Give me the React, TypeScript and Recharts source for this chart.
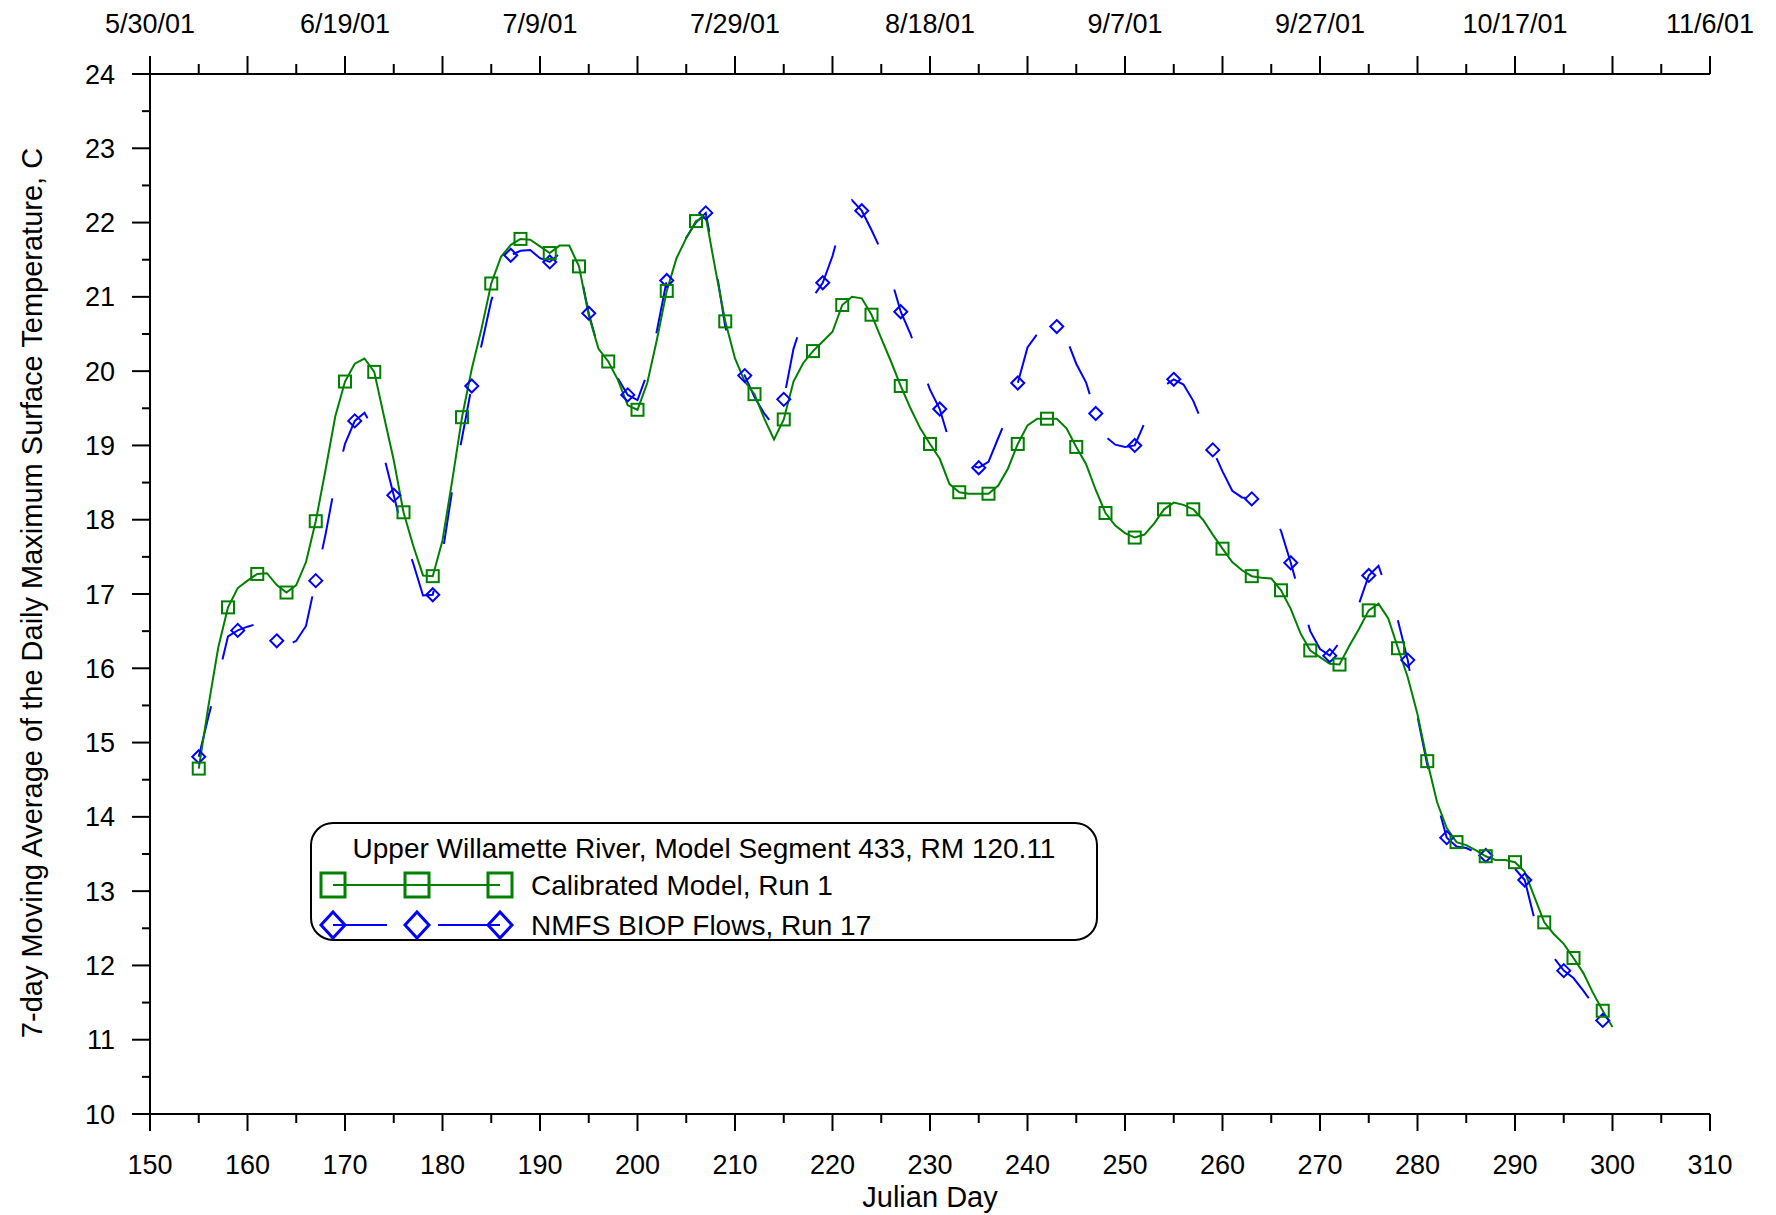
import React from "react";
import { LineChart, Line, XAxis, YAxis } from "recharts";

// Julian day of each daily value
const julianDays = [
  155, 156, 157, 158, 159, 160, 161, 162, 163, 164, 165, 166, 167, 168, 169, 170, 171, 172, 173, 174,
  175, 176, 177, 178, 179, 180, 181, 182, 183, 184, 185, 186, 187, 188, 189, 190, 191, 192, 193, 194,
  195, 196, 197, 198, 199, 200, 201, 202, 203, 204, 205, 206, 207, 208, 209, 210, 211, 212, 213, 214,
  215, 216, 217, 218, 219, 220, 221, 222, 223, 224, 225, 226, 227, 228, 229, 230, 231, 232, 233, 234,
  235, 236, 237, 238, 239, 240, 241, 242, 243, 244, 245, 246, 247, 248, 249, 250, 251, 252, 253, 254,
  255, 256, 257, 258, 259, 260, 261, 262, 263, 264, 265, 266, 267, 268, 269, 270, 271, 272, 273, 274,
  275, 276, 277, 278, 279, 280, 281, 282, 283, 284, 285, 286, 287, 288, 289, 290, 291, 292, 293, 294,
  295, 296, 297, 298, 299, 300,
];

// Calibrated Model, Run 1 (deg C)
const calibratedRun1 = [
  14.65, 15.5, 16.28, 16.82, 17.08, 17.18, 17.27, 17.28, 17.12, 17.02, 17.12, 17.43, 17.98, 18.67, 19.39, 19.86, 20.1, 20.17, 19.99, 19.39,
  18.8, 18.1, 17.65, 17.25, 17.24, 17.72, 18.53, 19.38, 20.03, 20.57, 21.18, 21.54, 21.7, 21.78, 21.77, 21.68, 21.59, 21.69, 21.69, 21.41,
  20.75, 20.3, 20.13, 19.88, 19.54, 19.48, 19.84, 20.43, 21.08, 21.52, 21.79, 22.02, 22.08, 21.36, 20.67, 20.17, 19.86, 19.69, 19.36, 19.08,
  19.35, 19.86, 20.11, 20.27, 20.4, 20.53, 20.89, 21.0, 20.98, 20.76, 20.44, 20.13, 19.8, 19.5, 19.23, 19.02, 18.82, 18.48, 18.37, 18.35,
  18.35, 18.35, 18.46, 18.69, 19.02, 19.27, 19.36, 19.36, 19.36, 19.23, 18.98, 18.75, 18.4, 18.09, 17.92, 17.82, 17.76, 17.8, 17.95, 18.14,
  18.23, 18.2, 18.14, 18.0, 17.8, 17.61, 17.43, 17.32, 17.24, 17.22, 17.21, 17.05, 16.8, 16.47, 16.24, 16.15, 16.06, 16.05, 16.3, 16.53,
  16.78, 16.87, 16.67, 16.27, 15.88, 15.38, 14.75, 14.2, 13.85, 13.66, 13.62, 13.55, 13.47, 13.42, 13.42, 13.39, 13.26, 12.92, 12.58, 12.42,
  12.29, 12.1, 11.9, 11.63, 11.39, 11.17,
];

// NMFS BIOP Flows, Run 17 (deg C)
const biopRun17 = [
  14.81, 15.35, 15.88, 16.43, 16.51, 16.56, 16.6, 16.5, 16.37, 16.3, 16.37, 16.57, 17.18, 17.8, 18.5, 19.02, 19.33, 19.44, 19.2, 18.85,
  18.33, 17.8, 17.41, 16.98, 16.99, 17.55, 18.4, 19.1, 19.8, 20.35, 20.95, 21.35, 21.56, 21.62, 21.63, 21.52, 21.47, 21.58, 21.58, 21.42,
  20.78, 20.3, 20.15, 19.9, 19.68, 19.61, 19.97, 20.55, 21.22, 21.55, 21.8, 22.0, 22.13, 21.43, 20.6, 20.15, 19.94, 19.65, 19.43, 19.26,
  19.62, 20.3, 20.71, 21.0, 21.19, 21.55, 22.03, 22.3, 22.16, 21.9, 21.62, 21.25, 20.8, 20.5, 20.12, 19.75, 19.49, 19.05, 18.8, 18.74,
  18.7, 18.78, 19.1, 19.42, 19.84, 20.32, 20.5, 20.62, 20.6, 20.44, 20.1, 19.85, 19.43, 19.12, 19.01, 18.98, 19.0, 19.3, 19.58, 19.8,
  19.89, 19.82, 19.6, 19.28, 18.94, 18.65, 18.39, 18.3, 18.28, 18.2, 18.08, 17.85, 17.42, 16.95, 16.5, 16.26, 16.17, 16.35, 16.6, 16.87,
  17.25, 17.38, 17.0, 16.64, 16.11, 15.35, 14.7, 14.2, 13.72, 13.6, 13.58, 13.52, 13.48, 13.42, 13.4, 13.3, 13.15, 12.62, 12.35, 12.1,
  11.93, 11.83, 11.66, 11.48, 11.26, null,
];

const dayTicks = [
  150, 155, 160, 165, 170, 175, 180, 185, 190, 195, 200, 205, 210, 215, 220, 225, 230, 235, 240, 245,
  250, 255, 260, 265, 270, 275, 280, 285, 290, 295, 300, 305, 310,
];
const tempTicks = [
  10, 10.5, 11, 11.5, 12, 12.5, 13, 13.5, 14, 14.5, 15, 15.5, 16, 16.5, 17, 17.5, 18, 18.5, 19, 19.5,
  20, 20.5, 21, 21.5, 22, 22.5, 23, 23.5, 24,
];
const dateTickDays = [150, 170, 190, 210, 230, 250, 270, 290, 310];
const dateTickLabels = ["5/30/01", "6/19/01", "7/9/01", "7/29/01", "8/18/01", "9/7/01", "9/27/01", "10/17/01", "11/6/01"];

const GREEN = "#008000";
const BLUE = "#0000ff";
const FONT = "'Liberation Sans', Arial, Helvetica, sans-serif";

const chartData = julianDays.map((day, i) => ({
  day,
  calib: calibratedRun1[i],
  biop: biopRun17[i],
}));

function BottomTick({ x, y, payload }: any) {
  const v = payload.value as number;
  const major = v % 10 === 0;
  return (
    <g>
      <line x1={x} y1={y} x2={x} y2={y + (major ? 17 : 9)} stroke="#000" strokeWidth={2} />
      {major && (
        <text x={x} y={y + 60} textAnchor="middle" fontSize={27} fontFamily={FONT} fill="#000">
          {v}
        </text>
      )}
    </g>
  );
}

function TopTick({ x, y, payload }: any) {
  const v = payload.value as number;
  const major = v % 10 === 0;
  const idx = dateTickDays.indexOf(v);
  return (
    <g>
      <line x1={x} y1={y} x2={x} y2={y - (major ? 18 : 10)} stroke="#000" strokeWidth={2} />
      {idx >= 0 && (
        <text x={x} y={y - 41} textAnchor="middle" fontSize={27} fontFamily={FONT} fill="#000">
          {dateTickLabels[idx]}
        </text>
      )}
    </g>
  );
}

function LeftTick({ x, y, payload }: any) {
  const v = payload.value as number;
  const major = Number.isInteger(v);
  return (
    <g>
      <line x1={x - (major ? 18 : 8)} y1={y} x2={x} y2={y} stroke="#000" strokeWidth={2} />
      {major && (
        <text x={x - 35} y={y + 9.5} textAnchor="end" fontSize={27} fontFamily={FONT} fill="#000">
          {v}
        </text>
      )}
    </g>
  );
}

function SquareDot(props: any) {
  const { cx, cy, payload, index } = props;
  if (cx == null || cy == null || (payload.day - 155) % 3 !== 0) return <g key={`s${index}`} />;
  return (
    <rect key={`s${index}`} x={cx - 6} y={cy - 6} width={12} height={12} fill="none" stroke={GREEN} strokeWidth={2} />
  );
}

function DiamondDot(props: any) {
  const { cx, cy, payload, index } = props;
  if (cx == null || cy == null || payload.biop == null || (payload.day - 155) % 4 !== 0)
    return <g key={`d${index}`} />;
  return (
    <polygon
      key={`d${index}`}
      points={`${cx},${cy - 6.5} ${cx + 6.5},${cy} ${cx},${cy + 6.5} ${cx - 6.5},${cy}`}
      fill="none"
      stroke={BLUE}
      strokeWidth={2}
    />
  );
}

function LegendBox() {
  const sq = (x: number, y: number) => (
    <rect x={x - 12} y={y - 12} width={24} height={24} fill="none" stroke={GREEN} strokeWidth={3} />
  );
  const dm = (x: number, y: number) => (
    <polygon
      points={`${x},${y - 13} ${x + 12},${y} ${x},${y + 13} ${x - 12},${y}`}
      fill="none"
      stroke={BLUE}
      strokeWidth={3}
    />
  );
  return (
    <svg
      width={790}
      height={121}
      style={{ position: "absolute", left: 310, top: 822, overflow: "visible" }}
    >
      <rect x={1} y={1} width={786} height={117} rx={22} ry={22} fill="#fff" stroke="#000" strokeWidth={2} />
      <text x={394} y={36} textAnchor="middle" fontSize={28} fontFamily={FONT} fill="#000">
        Upper Willamette River, Model Segment 433, RM 120.11
      </text>
      <line x1={23} y1={63} x2={190} y2={63} stroke={GREEN} strokeWidth={2} />
      {sq(23, 63)}
      {sq(107, 63)}
      {sq(190, 63)}
      <text x={221} y={73} fontSize={28} fontFamily={FONT} fill="#000">
        Calibrated Model, Run 1
      </text>
      <line x1={23} y1={103} x2={77} y2={103} stroke={BLUE} strokeWidth={2} />
      <line x1={128} y1={103} x2={190} y2={103} stroke={BLUE} strokeWidth={2} />
      {dm(23, 103)}
      {dm(107, 103)}
      {dm(190, 103)}
      <text x={221} y={113} fontSize={28} fontFamily={FONT} fill="#000">
        NMFS BIOP Flows, Run 17
      </text>
    </svg>
  );
}

export default function App() {
  return (
    <div style={{ position: "absolute", left: 0, top: 0, width: 1776, height: 1215, background: "#fff" }}>
      <LineChart width={1776} height={1215} data={chartData} margin={{ top: 0, right: 66, bottom: 0, left: 0 }}>
        <XAxis
          dataKey="day"
          type="number"
          domain={[150, 310]}
          allowDataOverflow
          ticks={dayTicks}
          interval={0}
          height={101}
          tickSize={0}
          tickMargin={0}
          tickLine={false}
          tick={BottomTick}
          axisLine={{ stroke: "#000", strokeWidth: 2 }}
          label={() => (
            <text key="xlabel" x={930} y={1207} textAnchor="middle" fontSize={29} fontFamily={FONT} fill="#000">
              Julian Day
            </text>
          )}
        />
        <XAxis
          xAxisId="top"
          dataKey="day"
          orientation="top"
          type="number"
          domain={[150, 310]}
          allowDataOverflow
          ticks={dayTicks}
          interval={0}
          height={74}
          tickSize={0}
          tickMargin={0}
          tickLine={false}
          tick={TopTick}
          axisLine={{ stroke: "#000", strokeWidth: 2 }}
        />
        <YAxis
          type="number"
          domain={[10, 24]}
          allowDataOverflow
          ticks={tempTicks}
          interval={0}
          width={150}
          tickSize={0}
          tickMargin={0}
          tickLine={false}
          tick={LeftTick}
          axisLine={{ stroke: "#000", strokeWidth: 2 }}
          label={() => (
            <text
              key="ylabel"
              transform="translate(42, 593) rotate(-90)"
              textAnchor="middle"
              fontSize={29}
              fontFamily={FONT}
              fill="#000"
            >
              7-day Moving Average of the Daily Maximum Surface Temperature, C
            </text>
          )}
        />
        {/* invisible series so the date axis on top gets its scale */}
        <Line
          xAxisId="top"
          dataKey="calib"
          stroke="none"
          dot={false}
          activeDot={false}
          legendType="none"
          isAnimationActive={false}
        />
        <Line
          dataKey="biop"
          type="linear"
          stroke={BLUE}
          strokeWidth={2}
          strokeDasharray="52 48"
          dot={DiamondDot}
          activeDot={false}
          isAnimationActive={false}
        />
        <Line
          dataKey="calib"
          type="linear"
          stroke={GREEN}
          strokeWidth={2}
          dot={SquareDot}
          activeDot={false}
          isAnimationActive={false}
        />
      </LineChart>
      <LegendBox />
    </div>
  );
}
